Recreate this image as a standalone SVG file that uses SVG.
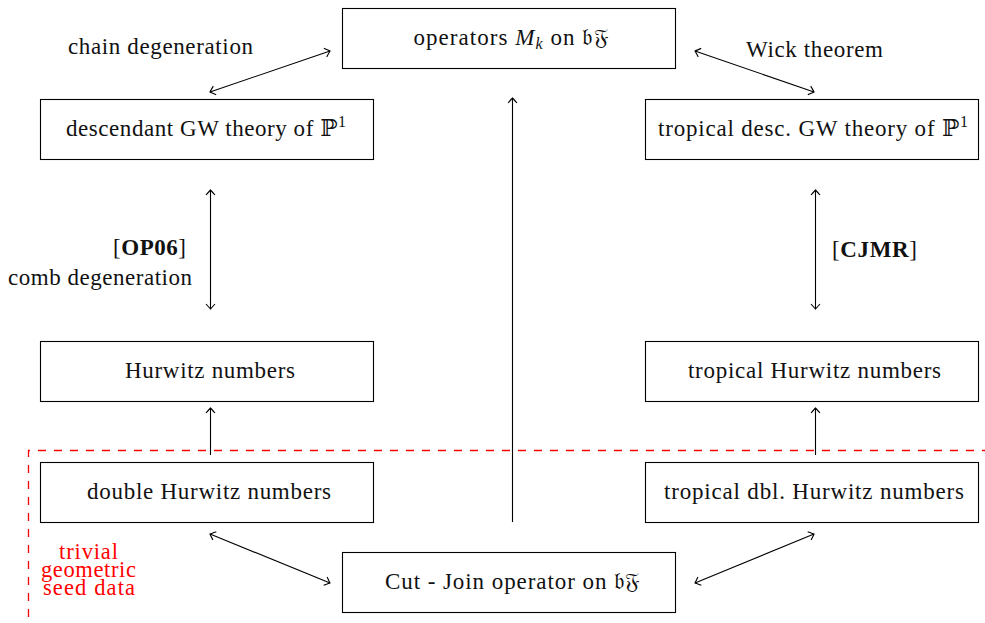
<svg xmlns="http://www.w3.org/2000/svg" width="985" height="623" viewBox="0 0 985 623">
<style>
.box{fill:#fff;stroke:#000;stroke-width:1.1}
.t{font-family:"Liberation Serif","DejaVu Serif",serif;font-size:23px;fill:#111;text-anchor:middle}
.red{fill:#ff0000;font-size:22.5px}
.conn line{stroke:#000;stroke-width:1.1;fill:none}
.dash{fill:none;stroke:#ff0000;stroke-width:1.3;stroke-dasharray:8 8}
.it{font-style:italic}
.b{font-weight:bold}
</style>
<defs>
<marker id="tip" viewBox="-6 -6 8 12" markerWidth="8" markerHeight="12" refX="0" refY="0" orient="auto-start-reverse" markerUnits="userSpaceOnUse" overflow="visible">
<path d="M-5,-4.5 Q-1,-1 0,0 Q-1,1 -5,4.5" fill="none" stroke="#000" stroke-width="1.1"/>
</marker>
</defs>
<rect width="985" height="623" fill="#fff"/>

<path class="dash" d="M28.5,617 V450.5 H985"/>

<g id="n-operators"><rect class="box" x="342.5" y="8.5" width="333" height="60"/>
<text class="t" x="511" y="45" textLength="195">operators <tspan class="it">M</tspan><tspan class="it" font-size="16" dy="4">k</tspan><tspan dy="-4"> on 𝔟𝔉</tspan></text></g>

<g id="n-descGW"><rect class="box" x="40.5" y="99.5" width="333" height="60"/>
<text class="t" x="206" y="136" textLength="280">descendant GW theory of ℙ<tspan font-size="16" dy="-9">1</tspan></text></g>

<g id="n-tropdescGW"><rect class="box" x="645.5" y="99.5" width="333" height="60"/>
<text class="t" x="813" y="136" textLength="310">tropical desc. GW theory of ℙ<tspan font-size="16" dy="-9">1</tspan></text></g>

<g id="n-hurwitz"><rect class="box" x="40.5" y="341.5" width="333" height="60"/>
<text class="t" x="210" y="378" textLength="170">Hurwitz numbers</text></g>

<g id="n-trophurwitz"><rect class="box" x="645.5" y="341.5" width="333" height="60"/>
<text class="t" x="814.5" y="378" textLength="253">tropical Hurwitz numbers</text></g>

<g id="n-double"><rect class="box" x="40.5" y="462.5" width="333" height="60"/>
<text class="t" x="209" y="499" textLength="244">double Hurwitz numbers</text></g>

<g id="n-tropdouble"><rect class="box" x="645.5" y="462.5" width="333" height="60"/>
<text class="t" x="814" y="499" textLength="300">tropical dbl. Hurwitz numbers</text></g>

<g id="n-cutjoin"><rect class="box" x="342.5" y="552.5" width="333" height="60"/>
<text class="t" x="512.5" y="589" textLength="255">Cut - Join operator on 𝔟𝔉</text></g>

<g id="connectors" class="conn">
<line x1="210" y1="92" x2="330" y2="51" marker-start="url(#tip)" marker-end="url(#tip)"/>
<line x1="695" y1="51" x2="814" y2="92" marker-start="url(#tip)" marker-end="url(#tip)"/>
<line x1="210.5" y1="190" x2="210.5" y2="309" marker-start="url(#tip)" marker-end="url(#tip)"/>
<line x1="815.5" y1="190" x2="815.5" y2="309" marker-start="url(#tip)" marker-end="url(#tip)"/>
<line x1="210.5" y1="455" x2="210.5" y2="408" marker-end="url(#tip)"/>
<line x1="815.5" y1="455" x2="815.5" y2="408" marker-end="url(#tip)"/>
<line x1="512.5" y1="522" x2="512.5" y2="98" marker-end="url(#tip)"/>
<line x1="210" y1="534" x2="330" y2="583" marker-start="url(#tip)" marker-end="url(#tip)"/>
<line x1="695" y1="583" x2="814" y2="534" marker-start="url(#tip)" marker-end="url(#tip)"/>
</g>

<g id="labels">
<text class="t" x="160.5" y="54" textLength="185">chain degeneration</text>
<text class="t" x="814.5" y="57" textLength="137">Wick theorem</text>
<text class="t" x="149.5" y="255" textLength="73">[<tspan class="b">OP06</tspan>]</text>
<text class="t" x="100" y="285" textLength="184">comb degeneration</text>
<text class="t" x="874.5" y="257" textLength="85">[<tspan class="b">CJMR</tspan>]</text>
<text class="t red" x="88.5" y="559" textLength="59">trivial</text>
<text class="t red" x="88.5" y="577" textLength="95">geometric</text>
<text class="t red" x="89" y="595" textLength="92">seed data</text>
</g>
</svg>
